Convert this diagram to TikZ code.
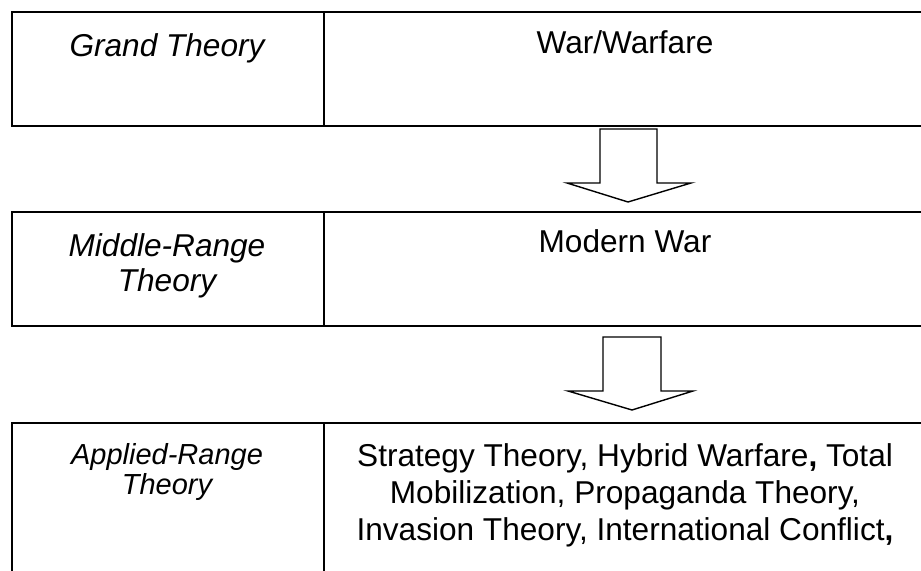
\documentclass[tikz,border=0pt]{standalone}
\usepackage{fontspec}
\setmainfont{Liberation Sans}
\usepackage{tikz}
\usetikzlibrary{positioning,calc}

\begin{document}
\begin{tikzpicture}[
    x=0.5pt, y=-0.5pt,
    cell/.style  = {rectangle, draw=black, line width=0.85pt,
                    anchor=north west, inner sep=0pt},
    lcell/.style = {cell, minimum width=156pt},
    rcell/.style = {cell, minimum width=320pt},
    level/.style = {anchor=north, inner sep=0pt, align=center,
                    font=\fontsize{15.8}{17.5}\selectfont\itshape},
    item/.style  = {anchor=north, inner sep=0pt, align=center,
                    font=\fontsize{15.8}{18.5}\selectfont},
    hollow/.style = {draw=black, fill=white, line width=0.7pt,
                     line join=miter},
]
\useasboundingbox (0,0) rectangle (921,571);
\clip (0,0) rectangle (921,571);

%% -- Row 1: grand theory ------------------------------------------------------
\node[lcell, minimum height=57pt] (gcell) at (11,11)  {};
\node[rcell, minimum height=57pt] (wcell) at (323,11) {};
\node[level] (grand) at (167,33) {Grand Theory};
\node[item]  (war)   at (625,30) {War/Warfare};

%% -- Row 2: middle-range theory -----------------------------------------------
\node[lcell, minimum height=57pt] (mcell) at (11,211)  {};
\node[rcell, minimum height=57pt] (ncell) at (323,211) {};
\node[level] (middle) at (167,233) {Middle-Range\\Theory};
\node[item]  (modern) at (625,229) {Modern War};

%% -- Row 3: applied-range theory (runs off the page) --------------------------
\node[lcell, minimum height=90pt] (acell) at (11,422)  {};
\node[rcell, minimum height=90pt] (tcell) at (323,422) {};
\node[level, font=\fontsize{14.5}{15}\selectfont\itshape]
    (applied) at (167,443) {Applied-Range\\Theory};
\node[item] (theories) at (625,443)
    {Strategy Theory, Hybrid Warfare\textbf{,} Total\\
     Mobilization, Propaganda Theory,\\
     Invasion Theory, International Conflict\textbf{,}};

%% -- Block arrows between rows ------------------------------------------------
\coordinate (tipA) at (628,202);
\coordinate (tipB) at (632,410);
\draw[hollow] (tipA) -- ++(-61,-19) -- ++(33,0) -- ++(0,-54)
    -- ++(57,0) -- ++(0,54) -- ++(34,0) -- cycle;
\draw[hollow] (tipB) -- ++(-64,-19) -- ++(35,0) -- ++(0,-54)
    -- ++(58,0) -- ++(0,54) -- ++(32,0) -- cycle;

\end{tikzpicture}
\end{document}
